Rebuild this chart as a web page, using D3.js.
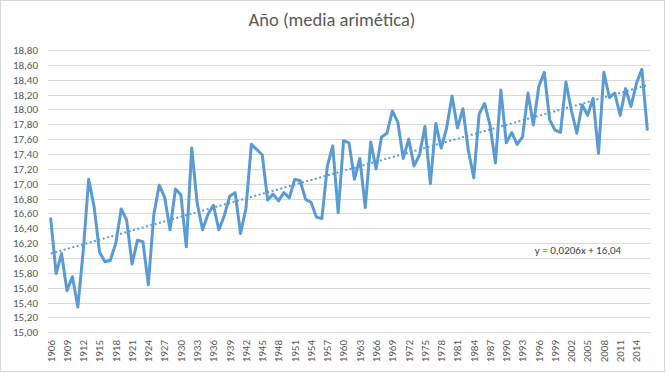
<!DOCTYPE html>
<html>
<head>
<meta charset="utf-8">
<script src="https://cdn.jsdelivr.net/npm/d3@7/dist/d3.min.js"></script>
<style>
  html, body { margin: 0; padding: 0; background: #fff; }
  svg { display: block; }
</style>
</head>
<body>
<div id="chart"></div>
<script>
const years = d3.range(1906, 2017);
const values = [
  16.53, 15.79, 16.06, 15.56, 15.75, 15.34, 16.10, 17.06, 16.69, 16.08,
  15.95, 15.97, 16.20, 16.66, 16.51, 15.92, 16.24, 16.22, 15.64, 16.58,
  16.98, 16.82, 16.38, 16.93, 16.85, 16.15, 17.48, 16.74, 16.38, 16.59,
  16.71, 16.38, 16.57, 16.83, 16.88, 16.33, 16.67, 17.53, 17.46, 17.39,
  16.78, 16.86, 16.77, 16.88, 16.81, 17.06, 17.04, 16.79, 16.75, 16.55,
  16.53, 17.23, 17.51, 16.61, 17.58, 17.55, 17.06, 17.34, 16.68, 17.56,
  17.20, 17.63, 17.68, 17.98, 17.83, 17.34, 17.60, 17.24, 17.39, 17.77,
  17.00, 17.81, 17.48, 17.75, 18.18, 17.75, 18.01, 17.45, 17.08, 17.94,
  18.08, 17.79, 17.28, 18.26, 17.55, 17.69, 17.53, 17.63, 18.22, 17.79,
  18.31, 18.50, 17.86, 17.72, 17.69, 18.37, 17.99, 17.68, 18.06, 17.92,
  18.15, 17.41, 18.50, 18.16, 18.22, 17.92, 18.28, 18.04, 18.35, 18.54,
  17.73
];
const yTicks = d3.range(15, 18.81, 0.2);
const xTickYears = d3.range(1906, 2017, 3);
const title = "Año (media arimética)";
const trendSlope = 0.0206;
const trendIntercept = 16.04;
const trendLabel = "y = 0,0206x + 16,04";

const W = 666, H = 373;
const font = "Carlito, Calibri, Lato, 'Open Sans', sans-serif";
const svg = d3.select("#chart").append("svg").attr("width", W).attr("height", H);

svg.append("rect").attr("x", 0.5).attr("y", 0.5).attr("width", W - 2).attr("height", H - 2)
  .attr("fill", "#fff").attr("stroke", "#d9d9d9");

const x = d3.scaleBand().domain(years).range([48, 650]);
const xc = yr => x(yr) + x.bandwidth() / 2;
const y = d3.scaleLinear().domain([15, 18.8]).range([332.3, 50]);

const fmt = v => d3.format(".2f")(v).replace(".", ",");

// gridlines
svg.append("g").selectAll("line").data(yTicks).join("line")
  .attr("x1", 48).attr("x2", 650)
  .attr("y1", d => Math.round(y(d)) + 0.5).attr("y2", d => Math.round(y(d)) + 0.5)
  .attr("stroke", "#d9d9d9").attr("stroke-width", 1);

// y axis labels
const yAxis = d3.axisLeft(y).tickValues(yTicks).tickFormat(fmt).tickSize(0).tickPadding(0);
const gy = svg.append("g").attr("transform", "translate(38,0)").call(yAxis);
gy.select(".domain").remove();
gy.selectAll("text").attr("font-family", font).attr("font-size", 11).attr("fill", "#595959");

// x axis labels
const xAxis = d3.axisBottom(x).tickValues(xTickYears).tickSize(0).tickPadding(0);
const gx = svg.append("g").attr("transform", "translate(0,332)").call(xAxis);
gx.select(".domain").remove();
gx.selectAll("text")
  .attr("font-family", font).attr("font-size", 11).attr("fill", "#595959")
  .attr("transform", "rotate(-90)")
  .attr("text-anchor", "end").attr("dy", "0.35em").attr("x", -8).attr("y", 0);

// trend line
const trend = d3.line().x(d => xc(d)).y(d => y(trendIntercept + trendSlope * (d - 1905)));
svg.append("path").datum([years[0], years[years.length - 1]])
  .attr("d", trend).attr("fill", "none").attr("stroke", "#5b9bd5")
  .attr("stroke-width", 2).attr("stroke-dasharray", "2,2.5");

// data line
const line = d3.line().x((d, i) => xc(years[i])).y(d => y(d));
svg.append("path").datum(values).attr("d", line)
  .attr("fill", "none").attr("stroke", "#5b9bd5").attr("stroke-width", 3)
  .attr("stroke-linejoin", "round").attr("stroke-linecap", "round");

// trend label
svg.append("text").attr("x", 578).attr("y", 251).attr("text-anchor", "middle")
  .attr("dominant-baseline", "middle")
  .attr("font-family", font).attr("font-size", 11).attr("fill", "#404040").text(trendLabel);

// title
svg.append("text").attr("x", 332).attr("y", 22).attr("text-anchor", "middle")
  .attr("dominant-baseline", "middle")
  .attr("font-family", font).attr("font-size", 18.5).attr("fill", "#595959").text(title);
</script>
</body>
</html>
